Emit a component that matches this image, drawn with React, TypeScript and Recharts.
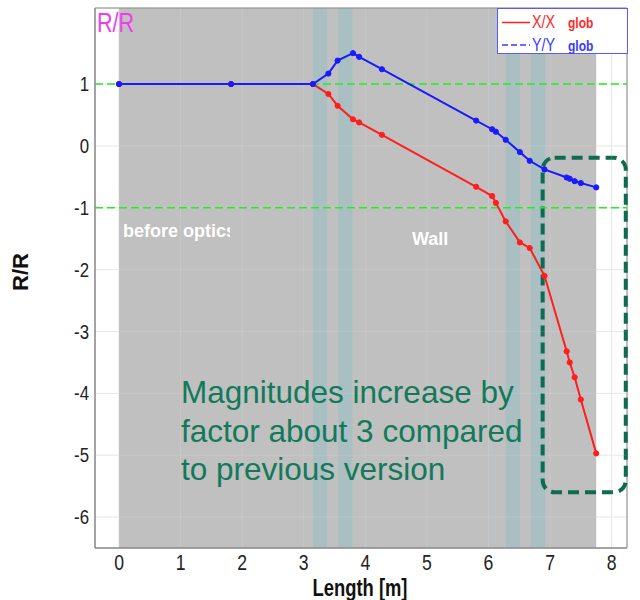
import {
  LineChart,
  Line,
  XAxis,
  YAxis,
  CartesianGrid,
  ReferenceArea,
  ReferenceLine,
} from "recharts";

// positions along the beamline [m]
const lengthM = [0, 1.82, 3.15, 3.4, 3.55, 3.8, 3.9, 4.27, 5.8, 6.06, 6.12, 6.28, 6.51, 6.67, 6.91, 7.27, 7.32, 7.4, 7.5, 7.75];
// X/X glob ratio
const ratioX = [1, 1, 1, 0.84, 0.65, 0.43, 0.38, 0.18, -0.66, -0.81, -0.92, -1.22, -1.56, -1.65, -2.1, -3.32, -3.5, -3.74, -4.1, -4.97];
// Y/Y glob ratio
const ratioY = [1, 1, 1, 1.17, 1.38, 1.5, 1.44, 1.24, 0.41, 0.27, 0.23, 0.1, -0.1, -0.24, -0.38, -0.51, -0.53, -0.57, -0.6, -0.67];

const xTicks = [0, 1, 2, 3, 4, 5, 6, 7, 8];
const yTicks = [-6, -5, -4, -3, -2, -1, 0, 1];

// element extents [m]
const regionStart = 0;
const regionEnd = 7.75;
const magnets = [
  [3.15, 3.38],
  [3.56, 3.79],
  [6.28, 6.51],
  [6.69, 6.92],
];

const X_DOMAIN: [number, number] = [-0.39, 8.25];
const Y_DOMAIN: [number, number] = [-6.5, 2.23];

const data = lengthM.map((x, i) => ({ x, rx: ratioX[i], ry: ratioY[i] }));

const SANS = '"Liberation Sans", Arial, sans-serif';
const NOTE = "#127a5a";
const SQUEEZE = 0.8; // fake a narrow face

function XTick(p: any) {
  return (
    <text
      transform={`translate(${p.x} ${p.y + 14}) scale(${SQUEEZE} 1)`}
      textAnchor="middle"
      fontSize={22}
      fill="#222"
      fontFamily={SANS}
    >
      {p.payload.value}
    </text>
  );
}

function YTick(p: any) {
  return (
    <text
      transform={`translate(${p.x} ${p.y + 7}) scale(${SQUEEZE} 1)`}
      textAnchor="end"
      fontSize={21}
      fill="#222"
      fontFamily={SANS}
    >
      {p.payload.value}
    </text>
  );
}

function RoundedBox(p: any) {
  return (
    <rect
      x={p.x}
      y={p.y}
      width={p.width}
      height={p.height}
      rx={12}
      ry={12}
      fill="none"
      stroke="#0e6b50"
      strokeWidth={4}
      strokeDasharray="11 6"
    />
  );
}

function Squeezed({ x, y, children, ...rest }: any) {
  return (
    <text transform={`translate(${x} ${y}) scale(${SQUEEZE} 1)`} {...rest}>
      {children}
    </text>
  );
}

export default function App() {
  return (
    <div style={{ position: "absolute", left: 0, top: 0, width: 640, height: 600, background: "#fff" }}>
      <LineChart
        width={640}
        height={600}
        data={data}
        margin={{ top: 8, right: 13, bottom: 0, left: 0 }}
      >
        <CartesianGrid stroke="#e4e4e4" />
        <XAxis
          dataKey="x"
          type="number"
          domain={X_DOMAIN}
          ticks={xTicks}
          allowDataOverflow
          height={52}
          stroke="#8a8a8a"
          tickLine={false}
          tick={XTick}
        />
        <YAxis
          type="number"
          domain={Y_DOMAIN}
          ticks={yTicks}
          allowDataOverflow
          width={95}
          stroke="#8a8a8a"
          tickLine={false}
          tickSize={4}
          tickMargin={2}
          tick={YTick}
        />
        <ReferenceArea x1={regionStart} x2={regionEnd} fill="#c0c0c0" fillOpacity={1} />
        {magnets.map(([a, b]) => (
          <ReferenceArea key={a} x1={a} x2={b} fill="#a9bfc1" fillOpacity={1} />
        ))}
        {xTicks.map((t) => (
          <ReferenceLine key={`gx${t}`} x={t} stroke="#fff" strokeOpacity={0.12} />
        ))}
        {yTicks.map((t) => (
          <ReferenceLine key={`gy${t}`} y={t} stroke="#fff" strokeOpacity={0.12} />
        ))}
        <ReferenceLine x={6.06} stroke="#a8c6dc" strokeDasharray="2 3" />
        <ReferenceLine y={1} stroke="#22ee22" strokeWidth={1.5} strokeDasharray="8 4" />
        <ReferenceLine y={-1} stroke="#22ee22" strokeWidth={1.5} strokeDasharray="8 4" />
        <ReferenceArea
          x1={X_DOMAIN[0]}
          x2={X_DOMAIN[1]}
          y1={Y_DOMAIN[0]}
          y2={Y_DOMAIN[1]}
          fill="none"
          stroke="#8a8a8a"
        />
        <Line
          dataKey="rx"
          type="linear"
          stroke="#ff1e1e"
          strokeWidth={2}
          dot={{ r: 2.6, fill: "#ff1e1e", stroke: "#ff1e1e", strokeWidth: 1 }}
          isAnimationActive={false}
        />
        <Line
          dataKey="ry"
          type="linear"
          stroke="#1a1aff"
          strokeWidth={2}
          dot={{ r: 2.6, fill: "#1a1aff", stroke: "#1a1aff", strokeWidth: 1 }}
          isAnimationActive={false}
        />
        <ReferenceArea x1={6.88} x2={8.23} y1={-5.6} y2={-0.19} shape={RoundedBox} ifOverflow="visible" />
      </LineChart>

      {/* labels, legend and note drawn above the chart */}
      <svg
        width={640}
        height={600}
        style={{ position: "absolute", left: 0, top: 0, pointerEvents: "none" }}
      >
        <defs>
          <clipPath id="before-clip">
            <rect x={100} y={210} width={130} height={40} />
          </clipPath>
        </defs>

        {/* region names */}
        <text x={123} y={237} fill="#fff" fontSize={18} fontWeight="bold" fontFamily={SANS} clipPath="url(#before-clip)">
          before optics
        </text>
        <text x={412} y={245} fill="#fff" fontSize={18} fontWeight="bold" fontFamily={SANS}>
          Wall
        </text>

        <Squeezed x={97} y={32} fill="#f03cf0" fontSize={27} fontFamily={SANS}>
          R/R
        </Squeezed>

        {/* note */}
        <g fill={NOTE} fontSize={31.5} fontFamily={SANS}>
          <text x={181} y={403}>Magnitudes increase by</text>
          <text x={181} y={442}>factor about 3 compared</text>
          <text x={181} y={480}>to previous version</text>
        </g>

        {/* legend */}
        <rect x={497.5} y={8.5} width={130} height={45} fill="#fff" stroke="#5a5aff" strokeWidth={1} />
        <line x1={502} x2={530} y1={22.5} y2={22.5} stroke="#ff1e1e" strokeWidth={1.5} />
        <Squeezed x={532} y={28} fill="#ff2a2a" fontSize={18} fontFamily={SANS}>X/X</Squeezed>
        <Squeezed x={568} y={28} fill="#ff2a2a" fontSize={15} fontWeight="bold" fontFamily={SANS}>glob</Squeezed>
        <line x1={502} x2={530} y1={45} y2={45} stroke="#3a3aff" strokeWidth={1.5} strokeDasharray="6 3" />
        <Squeezed x={532} y={51} fill="#3a3aff" fontSize={18} fontFamily={SANS}>Y/Y</Squeezed>
        <Squeezed x={568} y={51} fill="#3a3aff" fontSize={15} fontWeight="bold" fontFamily={SANS}>glob</Squeezed>

        {/* axis titles */}
        <Squeezed x={360} y={596} textAnchor="middle" fill="#111" fontSize={23} fontWeight="bold" fontFamily={SANS}>
          Length [m]
        </Squeezed>
        <text
          transform="translate(28 272) rotate(-90)"
          textAnchor="middle"
          fill="#111"
          fontSize={22}
          fontWeight="bold"
          fontFamily={SANS}
        >
          R/R
        </text>
      </svg>
    </div>
  );
}
